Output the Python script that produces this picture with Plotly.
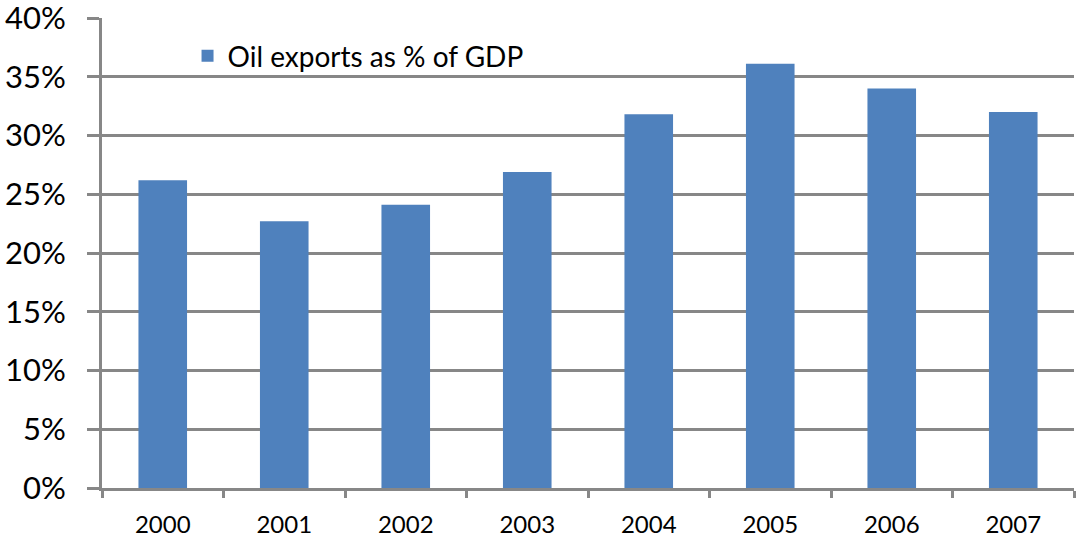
import plotly.graph_objects as go

years = ["2000", "2001", "2002", "2003", "2004", "2005", "2006", "2007"]
oil_exports_pct_gdp = [26.2, 22.7, 24.1, 26.9, 31.8, 36.1, 34.0, 32.0]
y_tick_values = [0, 5, 10, 15, 20, 25, 30, 35, 40]
y_tick_labels = ["0%", "5%", "10%", "15%", "20%", "25%", "30%", "35%", "40%"]

GRID = "#878787"
FONT = "Lato, 'Open Sans', sans-serif"

fig = go.Figure()
fig.add_trace(go.Bar(
    x=years,
    y=oil_exports_pct_gdp,
    name="Oil exports as % of GDP",
    marker=dict(color="#4F81BD", line=dict(width=0)),
))

fig.update_layout(
    width=1077,
    height=545,
    margin=dict(l=102, r=3, t=18, b=57, autoexpand=False),
    paper_bgcolor="white",
    plot_bgcolor="white",
    bargap=0.6,
    font=dict(family=FONT, color="black"),
    showlegend=True,
    legend=dict(
        x=0.088, y=0.972, xanchor="left", yanchor="top",
        font=dict(size=28, family=FONT, color="black"),
        bgcolor="rgba(0,0,0,0)",
        itemwidth=30,
    ),
    xaxis=dict(
        type="category",
        automargin=False,
        showline=True, linecolor=GRID, linewidth=3,
        ticks="outside", tickson="boundaries", ticklen=7, tickwidth=3, tickcolor=GRID,
        showgrid=False,
        tickfont=dict(size=24, family=FONT, color="black"),
        ticklabelstandoff=13,
        ticklabeloverflow="allow",
    ),
    yaxis=dict(
        range=[0, 40],
        automargin=False,
        tickvals=y_tick_values,
        ticktext=y_tick_labels,
        showline=True, linecolor=GRID, linewidth=3,
        showgrid=True, gridcolor=GRID, gridwidth=3,
        ticks="outside", ticklen=12, tickwidth=3, tickcolor=GRID,
        tickfont=dict(size=31, family=FONT, color="black"),
        zeroline=False,
        ticklabelstandoff=15,
        ticklabeloverflow="allow",
    ),
)

# remove the browser's default 8px body margin so the figure fills the window
fig.write_html(
    "out.html",
    config={"displayModeBar": False},
    post_script="document.body.style.margin='0';",
)
